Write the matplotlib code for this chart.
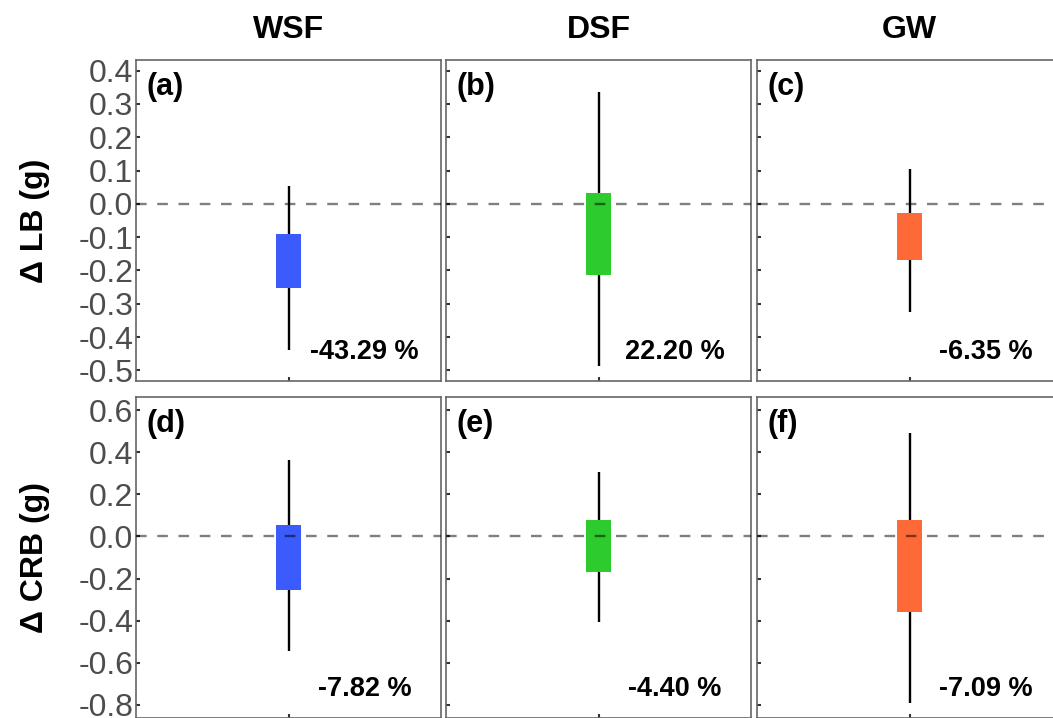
import matplotlib
matplotlib.use("Agg")
import matplotlib.pyplot as plt

plt.rcParams['font.family'] = ['Liberation Sans', 'DejaVu Sans']
plt.rcParams['axes.unicode_minus'] = False

# data
groups = ["WSF", "DSF", "GW"]
colors = ["#3b5bfd", "#2ecb2e", "#fe6a37"]
row_labels = ["\u0394 LB (g)", "\u0394 CRB (g)"]
panel_tags = [["(a)", "(b)", "(c)"], ["(d)", "(e)", "(f)"]]

lb_lo = [-0.438, -0.486, -0.325]
lb_q1 = [-0.253, -0.213, -0.168]
lb_q3 = [-0.091, 0.032, -0.028]
lb_hi = [0.055, 0.337, 0.105]
lb_pct = ["-43.29 %", "22.20 %", "-6.35 %"]

crb_lo = [-0.545, -0.406, -0.791]
crb_q1 = [-0.255, -0.170, -0.361]
crb_q3 = [0.055, 0.079, 0.079]
crb_hi = [0.364, 0.309, 0.494]
crb_pct = ["-7.82 %", "-4.40 %", "-7.09 %"]

lb_ticks = [0.4, 0.3, 0.2, 0.1, 0.0, -0.1, -0.2, -0.3, -0.4, -0.5]
crb_ticks = [0.6, 0.4, 0.2, 0.0, -0.2, -0.4, -0.6, -0.8]

rows = [
    (lb_lo, lb_q1, lb_q3, lb_hi, lb_pct, lb_ticks, (-0.532, 0.432)),
    (crb_lo, crb_q1, crb_q3, crb_hi, crb_pct, crb_ticks, (-0.864, 0.664)),
]

W, H = 1053, 718
fig = plt.figure(figsize=(W / 100, H / 100), dpi=100)

col_left = [136, 446, 757]
col_w = 305
row_top = [60, 397]
row_h = [321, 321]

for r, (lo, q1, q3, hi, pct, ticks, ylim) in enumerate(rows):
    for c in range(3):
        ax = fig.add_axes([col_left[c] / W, 1 - (row_top[r] + row_h[r]) / H,
                           col_w / W, row_h[r] / H])
        ax.vlines(1, lo[c], hi[c], color="black", lw=1.7, zorder=2)
        ax.bar(1, q3[c] - q1[c], bottom=q1[c], width=0.17,
               color=colors[c], zorder=3)
        ax.axhline(0, color="black", alpha=0.5, lw=1.7,
                   linestyle=(0, (4.5, 4.5)), zorder=4)
        ax.set_xlim(0, 2)
        ax.set_ylim(*ylim)
        ax.set_xticks([1])
        ax.set_xticklabels([])
        ax.set_yticks(ticks)
        if c == 0:
            ax.set_yticklabels(["%.1f" % t for t in ticks])
            ax.set_ylabel(row_labels[r], fontsize=23, fontweight="bold",
                          labelpad=20)
        else:
            ax.set_yticklabels([])
        ax.tick_params(direction="in", length=3, width=1.5, color="#333333",
                       labelsize=23, labelcolor="#4d4d4d", pad=2)
        for s in ax.spines.values():
            s.set_color("#666666")
            s.set_linewidth(1.2)
        ax.text(0.035, 0.915, panel_tags[r][c], transform=ax.transAxes,
                fontsize=22, fontweight="bold", ha="left", va="center")
        ax.text(0.75, 0.09, pct[c], transform=ax.transAxes,
                fontsize=19.5, fontweight="bold", ha="center", va="center")
        if r == 0:
            ax.set_title(groups[c], fontsize=23, fontweight="bold", pad=16)

fig.savefig("out.png", dpi=100)
